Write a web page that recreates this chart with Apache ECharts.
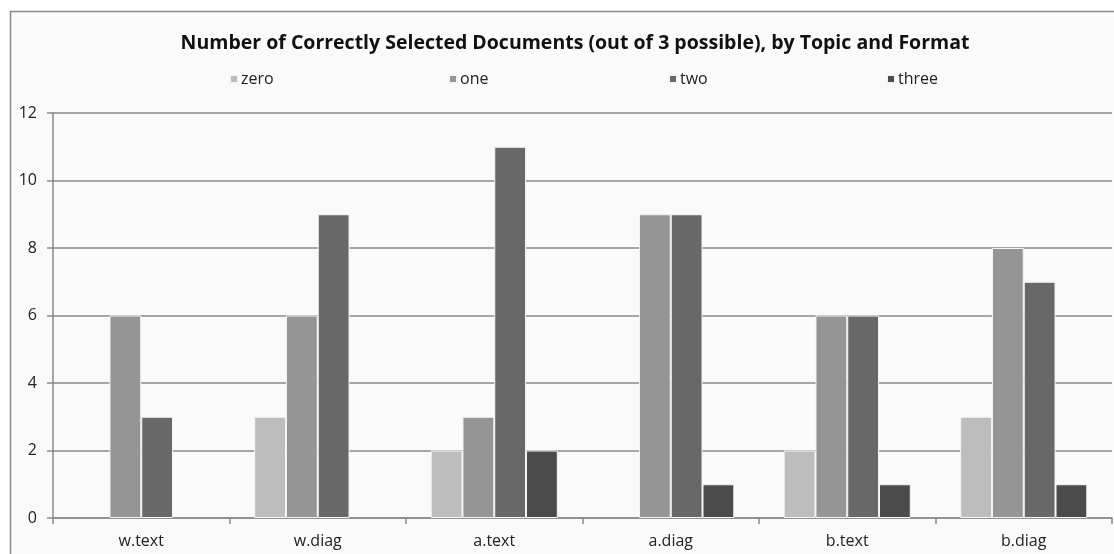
<!DOCTYPE html>
<html>
<head>
<meta charset="utf-8">
<script src="https://cdn.jsdelivr.net/npm/echarts@6/dist/echarts.min.js"></script>
<style>
  html, body { margin: 0; padding: 0; background: #ffffff; }
  #chart { width: 1114px; height: 554px; }
</style>
</head>
<body>
<div id="chart"></div>
<script>
// Topics/formats along the x axis
const categories = ['w.text', 'w.diag', 'a.text', 'a.diag', 'b.text', 'b.diag'];
// Count of participants by number of correctly selected documents
const zero  = [0, 3, 2, 0, 2, 3];
const one   = [6, 6, 3, 9, 6, 8];
const two   = [3, 9, 11, 9, 6, 7];
const three = [0, 0, 2, 1, 1, 1];
const yTicks = [0, 2, 4, 6, 8, 10, 12];

const seriesNames = ['zero', 'one', 'two', 'three'];
const seriesData = [zero, one, two, three];
const colors = ['#bdbdbd', '#959595', '#686868', '#4b4b4b'];
const legendLeft = [229, 448, 668, 886];

const FONT = '"Open Sans", sans-serif';

const chart = echarts.init(document.getElementById('chart'), null, { renderer: 'canvas' });

chart.setOption({
  animation: false,
  backgroundColor: '#ffffff',
  color: colors,
  graphic: [{
    type: 'rect',
    z: -10,
    shape: { x: 10.5, y: 11.5, width: 1120, height: 560 },
    style: { fill: '#fafafa', stroke: '#8a8a8a', lineWidth: 1.5 }
  }],
  title: {
    text: 'Number of Correctly Selected Documents (out of 3 possible), by Topic and Format',
    left: 570,
    textAlign: 'center',
    top: 28,
    textStyle: { fontFamily: FONT, fontWeight: 'bold', fontSize: 19.5, color: '#111' }
  },
  legend: seriesNames.map((n, i) => ({
    data: [n],
    left: legendLeft[i] - 5,
    top: 66,
    itemWidth: 8,
    itemHeight: 8,
    itemGap: 4,
    icon: 'rect',
    textStyle: { fontFamily: FONT, fontSize: 16, color: '#222', padding: [0, 0, 0, -2] }
  })),
  grid: { left: 53, right: 2, top: 113, bottom: 36, containLabel: false },
  xAxis: {
    type: 'category',
    data: categories,
    boundaryGap: true,
    axisLine: { lineStyle: { color: '#8a8a8a', width: 1.5 } },
    axisTick: { show: true, length: 6, lineStyle: { color: '#8a8a8a', width: 1.5 } },
    axisLabel: { fontFamily: FONT, fontSize: 16, color: '#222', margin: 15 }
  },
  yAxis: {
    type: 'value',
    min: yTicks[0],
    max: yTicks[yTicks.length - 1],
    interval: 2,
    axisLine: { show: true, lineStyle: { color: '#8a8a8a', width: 1.5 } },
    axisTick: { show: true, length: 6, lineStyle: { color: '#8a8a8a', width: 1.5 } },
    axisLabel: { fontFamily: FONT, fontSize: 16, color: '#222', margin: 16 },
    splitLine: { show: true, lineStyle: { color: '#8a8a8a', width: 1.5 } }
  },
  series: seriesNames.map((n, i) => ({
    name: n,
    type: 'bar',
    // empty (zero) bars get no outline so nothing shows on the baseline
    data: seriesData[i].map(v => v === 0 ? { value: v, itemStyle: { borderWidth: 0 } } : v),
    barGap: '0%',
    barCategoryGap: '28%',
    itemStyle: { color: colors[i], borderColor: '#f4f4f4', borderWidth: 1 }
  }))
});
</script>
</body>
</html>
